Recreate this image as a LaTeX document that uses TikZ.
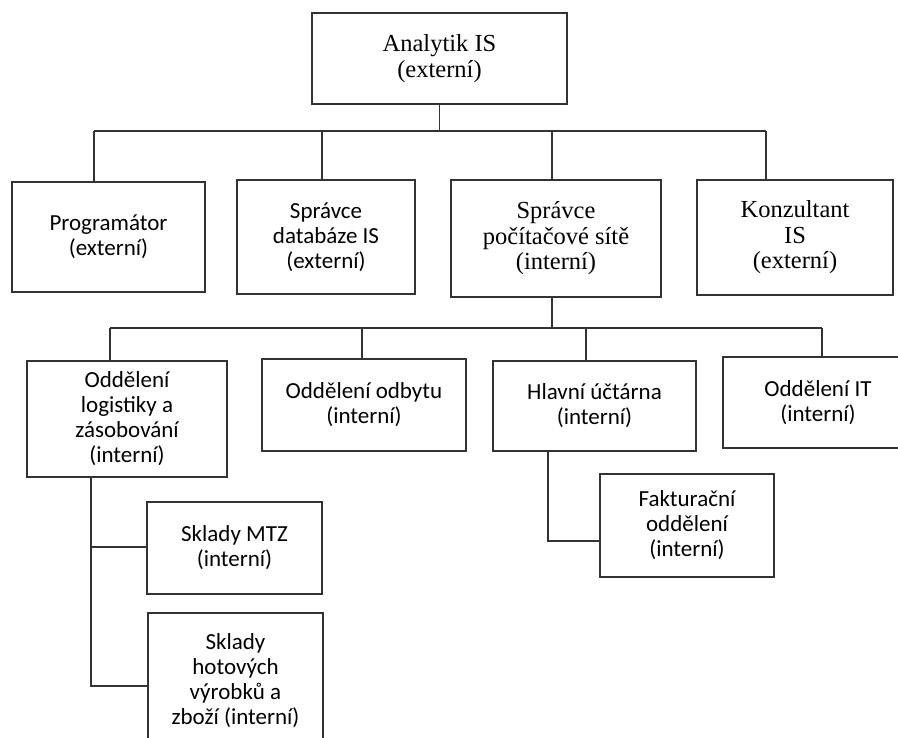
\documentclass[tikz,border=0pt]{standalone}
\usepackage{fontspec}
\setmainfont{Liberation Serif}
\newfontfamily\calibri{Carlito}
\tikzset{
  box/.style={draw=black!80,line width=1.3pt,align=center,inner sep=2pt},
  serifbox/.style={box,font=\fontsize{24.5}{25.5}\selectfont},
  sansbox/.style={box,font=\calibri\fontsize{23}{25}\selectfont},
  conn/.style={draw=black!80,line width=1.3pt}
}
\begin{document}
\begin{tikzpicture}[x=1pt,y=-1pt]
\useasboundingbox[fill=white](0,0)rectangle(898,738);
\clip(0,0)rectangle(898,738);
%top level
\node[serifbox,minimum width=255pt,minimum height=91pt](ana)at(439.5,58.5){Analytik IS\\(externí)};
\node[sansbox,minimum width=193pt,minimum height=110pt](prog)at(108.5,237){Programátor\\(externí)};
\node[sansbox,minimum width=178pt,minimum height=114pt](dbs)at(326,237){Správce\\databáze IS\\(externí)};
\node[serifbox,minimum width=210pt,minimum height=117pt](sit)at(556,238.5){Správce\\počítačové sítě\\(interní)};
\node[serifbox,minimum width=196pt,minimum height=115pt](kon)at(795,237.5){Konzultant\\IS\\(externí)};
%departments
\node[sansbox,minimum width=200pt,minimum height=116pt](log)at(127,419){Oddělení\\logistiky a\\zásobování\\(interní)};
\node[sansbox,minimum width=204pt,minimum height=92pt](odb)at(364,405){Oddělení odbytu\\(interní)};
\node[sansbox,minimum width=203pt,minimum height=90pt](uct)at(594.5,406){Hlavní účtárna\\(interní)};
\node[sansbox,minimum width=190pt,minimum height=91pt](it)at(818,402.5){Oddělení IT\\(interní)};
\node[sansbox,minimum width=174pt,minimum height=103pt](fak)at(687,525.5){Fakturační\\oddělení\\(interní)};
\node[sansbox,minimum width=175pt,minimum height=92pt](mtz)at(234.5,548){Sklady MTZ\\(interní)};
\node[sansbox,minimum width=175pt,minimum height=136pt](hot)at(235.5,681){Sklady\\hotových\\výrobků a\\zboží (interní)};
%bus points
\coordinate(p1)at(94,131);
\coordinate(p2)at(322,131);
\coordinate(p3)at(552,131);
\coordinate(p4)at(766,131);
\coordinate(q1)at(110,328);
\coordinate(q2)at(362,328);
\coordinate(q3)at(586,328);
\coordinate(q4)at(822,328);
\coordinate(r1)at(91,547);
\coordinate(r2)at(91,686);
\coordinate(s1)at(548,541);
%connectors
\draw[conn](ana.south)--(ana.south|-p1);
\draw[conn](p1)--(p4);
\foreach \n/\c in {prog/p1,dbs/p2,sit/p3,kon/p4}{
\draw[conn](\c)--(\c|-\n.north);
}
\draw[conn](p3|-sit.south)--(q3-|p3);
\draw[conn](q1)--(q4);
\foreach \n/\c in {log/q1,odb/q2,uct/q3,it/q4}{
\draw[conn](\c)--(\c|-\n.north);
}
\draw[conn](r1|-log.south)--(r2)--(r2-|hot.west);
\draw[conn](r1)--(r1-|mtz.west);
\draw[conn](s1|-uct.south)--(s1)--(s1-|fak.west);
\end{tikzpicture}
\end{document}
